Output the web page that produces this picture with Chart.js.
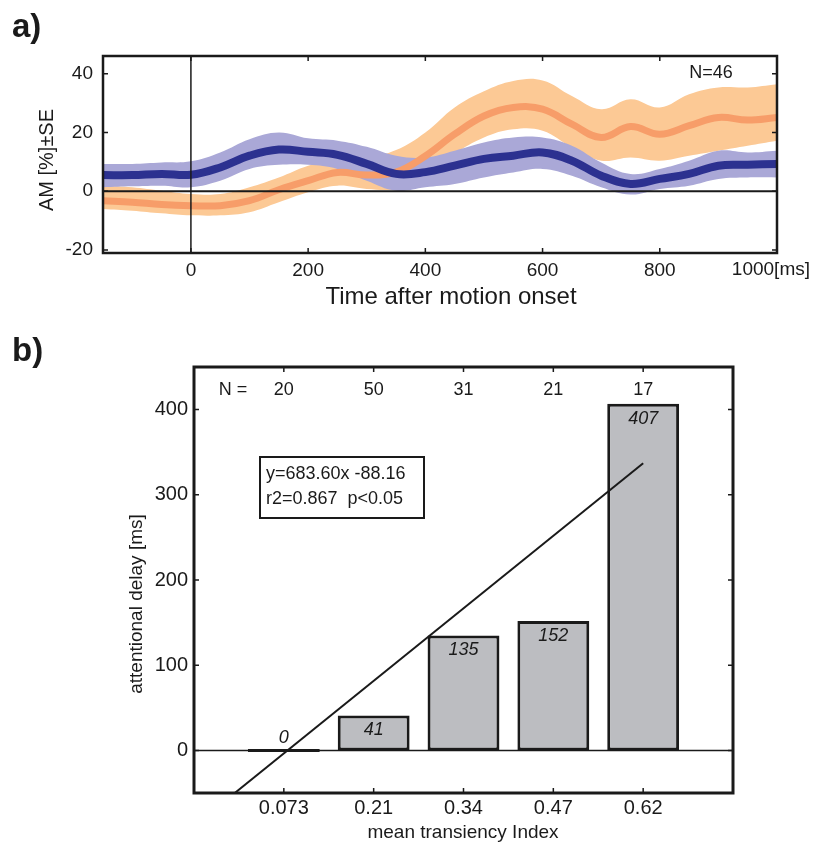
<!DOCTYPE html>
<html>
<head>
<meta charset="utf-8">
<script src="https://cdn.jsdelivr.net/npm/chart.js@4.4.1/dist/chart.umd.min.js"></script>
<style>
  html, body { margin: 0; padding: 0; background: #fff; }
  #wrap { position: relative; width: 813px; height: 848px; }
  canvas { position: absolute; left: 0; }
  #chartA { top: 0; }
  #chartB { top: 320px; }
</style>
</head>
<body>
<div id="wrap">
  <canvas id="chartA" width="813" height="320"></canvas>
  <canvas id="chartB" width="813" height="528"></canvas>
</div>
<script>
// ---- panel a) : attentional modulation over time ----
const timeMs = [-150, -100, -50, 0, 50, 100, 150, 200, 250, 300, 350, 400,
                450, 500, 550, 600, 650, 700, 750, 800, 850, 900, 950, 1000];
const blueMean  = [5.5, 5.5, 5.9, 5.6, 8.1, 12.1, 14.2, 13.4, 12.4, 9.3, 5.9, 6.5,
                   8.7, 11, 12.1, 13.2, 10.4, 5.3, 2.5, 4.2, 5.9, 8.7, 9, 9.3];
const blueUpper = [9.3, 9.3, 9.8, 10.2, 13.2, 17.7, 20, 18, 17.2, 15.1, 12.1, 11.5,
                   13.8, 16.6, 18.3, 18.3, 15.5, 9.8, 5.9, 7.6, 10.4, 13.8, 13.2, 13.8];
const blueLower = [1.4, 1.7, 1.9, 1.4, 3.6, 7.6, 9, 9, 7.6, 3.6, 0.2, 1.4,
                   2.5, 4.7, 6.4, 7.6, 5.3, 1.4, -1.1, 0.8, 1.9, 4.2, 4.7, 4.7];
const orangeMean  = [-3.2, -3.7, -4.5, -4.9, -4.9, -3.2, 0.5, 3.6, 6.4, 5.5, 6.5, 12,
                     19.4, 25.6, 28.5, 27.9, 22.8, 18.3, 22, 19.4, 22.3, 25.1, 24.2, 25.1];
const orangeUpper = [1.9, 1.4, 0.2, -0.9, -0.9, 1.4, 4.7, 8.7, 11, 11.5, 14, 20,
                     28.5, 34, 37.5, 37.7, 32.4, 27.9, 31.3, 28.5, 33, 35.3, 35.3, 36.4];
const orangeLower = [-6, -6.6, -7.5, -8.2, -8.2, -7.1, -3.7, -0.3, 1.9, 0.8, 0.8, 5,
                     12.7, 18.3, 21.1, 20.6, 14.9, 10.4, 11.5, 10.4, 12.1, 13.8, 15.5, 17.2];
const timeTicks = [0, 200, 400, 600, 800, 1000];
const amTicks = [-20, 0, 20, 40];

// ---- panel b) : attentional delay per transiency bin ----
const transiencyLabels = ['0.073', '0.21', '0.34', '0.47', '0.62'];
const binPositions = [1, 2, 3, 4, 5];
const delays = [0, 41, 135, 152, 407];
const nCounts = [20, 50, 31, 21, 17];
const regressionX = [0.454, 5];
const regressionY = [-50, 337];
const delayTicks = [0, 100, 200, 300, 400];

const FONT = "'Liberation Sans', Arial, Helvetica, sans-serif";
const INK = '#1a1a1a';

function pts(xs, ys) { return xs.map((x, i) => ({ x: x, y: ys[i] })); }

function txt(ctx, s, x, y, font, align, base) {
  ctx.save();
  ctx.font = font;
  ctx.fillStyle = INK;
  ctx.textAlign = align || 'center';
  ctx.textBaseline = base || 'middle';
  ctx.fillText(s, x, y);
  ctx.restore();
}

function vtxt(ctx, s, x, y, font) {
  ctx.save();
  ctx.translate(x, y);
  ctx.rotate(-Math.PI / 2);
  txt(ctx, s, 0, 0, font);
  ctx.restore();
}

// box + inward ticks on all four sides, matlab style
function frame(chart, xt, yt, lw) {
  const { ctx, chartArea: a, scales: { x, y } } = chart;
  ctx.save();
  ctx.strokeStyle = INK;
  ctx.lineWidth = 1.5;
  ctx.beginPath();
  xt.forEach(v => {
    const px = x.getPixelForValue(v);
    ctx.moveTo(px, a.bottom); ctx.lineTo(px, a.bottom - 5);
    ctx.moveTo(px, a.top); ctx.lineTo(px, a.top + 5);
  });
  yt.forEach(v => {
    const py = y.getPixelForValue(v);
    ctx.moveTo(a.left, py); ctx.lineTo(a.left + 5, py);
    ctx.moveTo(a.right, py); ctx.lineTo(a.right - 5, py);
  });
  ctx.stroke();
  ctx.lineWidth = lw;
  ctx.strokeRect(a.left, a.top, a.right - a.left, a.bottom - a.top);
  ctx.restore();
}

function fixedTicks(values) {
  return s => { s.ticks = values.map(v => ({ value: v })); };
}

const band = (data, color, order, fill) => ({
  data: data, fill: fill, backgroundColor: color, borderColor: 'rgba(0,0,0,0)',
  borderWidth: 0, pointRadius: 0, tension: 0.4, order: order
});

const panelA = {
  id: 'panelA',
  afterDatasetsDraw(chart) {
    const { ctx, chartArea: a, scales: { x, y } } = chart;
    ctx.save();
    ctx.strokeStyle = INK;
    ctx.lineWidth = 2;
    ctx.beginPath();
    const y0 = y.getPixelForValue(0);
    ctx.moveTo(a.left, y0); ctx.lineTo(a.right, y0);
    ctx.stroke();
    ctx.lineWidth = 1.5;
    ctx.beginPath();
    const x0 = x.getPixelForValue(0);
    ctx.moveTo(x0, a.top); ctx.lineTo(x0, a.bottom);
    ctx.stroke();
    ctx.restore();
  },
  afterDraw(chart) {
    const ctx = chart.ctx;
    frame(chart, timeTicks, amTicks, 2.5);
    txt(ctx, '1000[ms]', 810, 270, '19px ' + FONT, 'right');
    txt(ctx, 'Time after motion onset', 451, 297, '24px ' + FONT);
    vtxt(ctx, 'AM [%]\u00b1SE', 47, 160, '20px ' + FONT);
    txt(ctx, 'N=46', 711, 73, '18px ' + FONT);
    txt(ctx, 'a)', 12, 37, 'bold 33px ' + FONT, 'left', 'alphabetic');
  }
};

new Chart(document.getElementById('chartA'), {
  type: 'line',
  data: {
    datasets: [
      { data: pts(timeMs, blueMean), borderColor: '#2c3190', borderWidth: 8,
        pointRadius: 0, tension: 0.4, fill: false, order: 0 },
      { data: pts(timeMs, orangeMean), borderColor: '#f79d69', borderWidth: 7,
        pointRadius: 0, tension: 0.4, fill: false, order: 1 },
      band(pts(timeMs, blueUpper), '#aaa8d7', 2, '+1'),
      band(pts(timeMs, blueLower), '#aaa8d7', 2, false),
      band(pts(timeMs, orangeUpper), '#fcc995', 3, '+1'),
      band(pts(timeMs, orangeLower), '#fcc995', 3, false)
    ]
  },
  options: {
    responsive: false,
    animation: false,
    devicePixelRatio: 1,
    layout: { padding: { left: 0, right: 36, top: 56, bottom: 0 } },
    plugins: { legend: { display: false }, tooltip: { enabled: false } },
    scales: {
      x: {
        type: 'linear', min: -150, max: 1000,
        afterBuildTicks: fixedTicks(timeTicks),
        afterFit: s => { s.height = 67; },
        grid: { display: false, drawTicks: false }, border: { display: false },
        ticks: { padding: 6, color: INK, font: { family: FONT, size: 19 },
                 maxRotation: 0, callback: v => (v === 1000 ? '' : String(v)) }
      },
      y: {
        type: 'linear', min: -21, max: 46,
        afterBuildTicks: fixedTicks(amTicks),
        afterFit: s => { s.width = 103; },
        grid: { display: false, drawTicks: false }, border: { display: false },
        ticks: { padding: 10, color: INK, font: { family: FONT, size: 19 },
                 callback: v => String(v) }
      }
    }
  },
  plugins: [panelA]
});

const panelB = {
  id: 'panelB',
  beforeDatasetsDraw(chart) {
    const { ctx, chartArea: a, scales: { y } } = chart;
    ctx.save();
    ctx.strokeStyle = INK;
    ctx.lineWidth = 1.5;
    ctx.beginPath();
    const y0 = y.getPixelForValue(0);
    ctx.moveTo(a.left, y0); ctx.lineTo(a.right, y0);
    ctx.stroke();
    ctx.restore();
  },
  afterDatasetsDraw(chart) {
    const { ctx, chartArea: a, scales: { x, y } } = chart;
    const italic = 'italic 18px ' + FONT;
    binPositions.forEach((p, i) => {
      const px = x.getPixelForValue(p);
      const py = y.getPixelForValue(delays[i]);
      if (delays[i] > 0) txt(ctx, String(delays[i]), px, py + 15, italic);
      else txt(ctx, String(delays[i]), px, py - 12, italic);
      txt(ctx, String(nCounts[i]), px, a.top + 23, '18px ' + FONT);
    });
    txt(ctx, 'N =', 233, a.top + 23, '18px ' + FONT);
  },
  afterDraw(chart) {
    const ctx = chart.ctx;
    frame(chart, binPositions, delayTicks, 3);
    ctx.save();
    ctx.fillStyle = '#fff';
    ctx.fillRect(260, 137, 164, 61);
    ctx.strokeStyle = INK;
    ctx.lineWidth = 2;
    ctx.strokeRect(260, 137, 164, 61);
    ctx.restore();
    txt(ctx, 'y=683.60x -88.16', 266, 154, '18px ' + FONT, 'left');
    txt(ctx, 'r2=0.867  p<0.05', 266, 179, '18px ' + FONT, 'left');
    txt(ctx, 'mean transiency Index', 463, 513, '19px ' + FONT);
    vtxt(ctx, 'attentional delay [ms]', 137, 284, '19px ' + FONT);
    txt(ctx, 'b)', 12, 41, 'bold 33px ' + FONT, 'left', 'alphabetic');
  }
};

new Chart(document.getElementById('chartB'), {
  type: 'bar',
  data: {
    datasets: [
      { type: 'line', data: pts(regressionX, regressionY), borderColor: INK,
        borderWidth: 2, pointRadius: 0, fill: false, order: 0 },
      { type: 'bar', data: pts(binPositions, delays), backgroundColor: '#bcbdc1',
        borderColor: INK, borderWidth: 3, borderSkipped: false,
        barPercentage: 1, categoryPercentage: 0.8, minBarLength: 3, order: 1 }
    ]
  },
  options: {
    responsive: false,
    animation: false,
    devicePixelRatio: 1,
    layout: { padding: { left: 0, right: 80, top: 47, bottom: 0 } },
    plugins: { legend: { display: false }, tooltip: { enabled: false } },
    scales: {
      x: {
        type: 'linear', min: 0, max: 6, offset: false,
        afterBuildTicks: fixedTicks(binPositions),
        afterFit: s => { s.height = 55; },
        grid: { display: false, drawTicks: false }, border: { display: false },
        ticks: { padding: 3, color: INK, font: { family: FONT, size: 20 },
                 maxRotation: 0, callback: (v, i) => transiencyLabels[i] }
      },
      y: {
        type: 'linear', min: -50, max: 450,
        afterBuildTicks: fixedTicks(delayTicks),
        afterFit: s => { s.width = 194; },
        grid: { display: false, drawTicks: false }, border: { display: false },
        ticks: { padding: 6, color: INK, font: { family: FONT, size: 20 },
                 callback: v => String(v) }
      }
    }
  },
  plugins: [panelB]
});
</script>
</body>
</html>
